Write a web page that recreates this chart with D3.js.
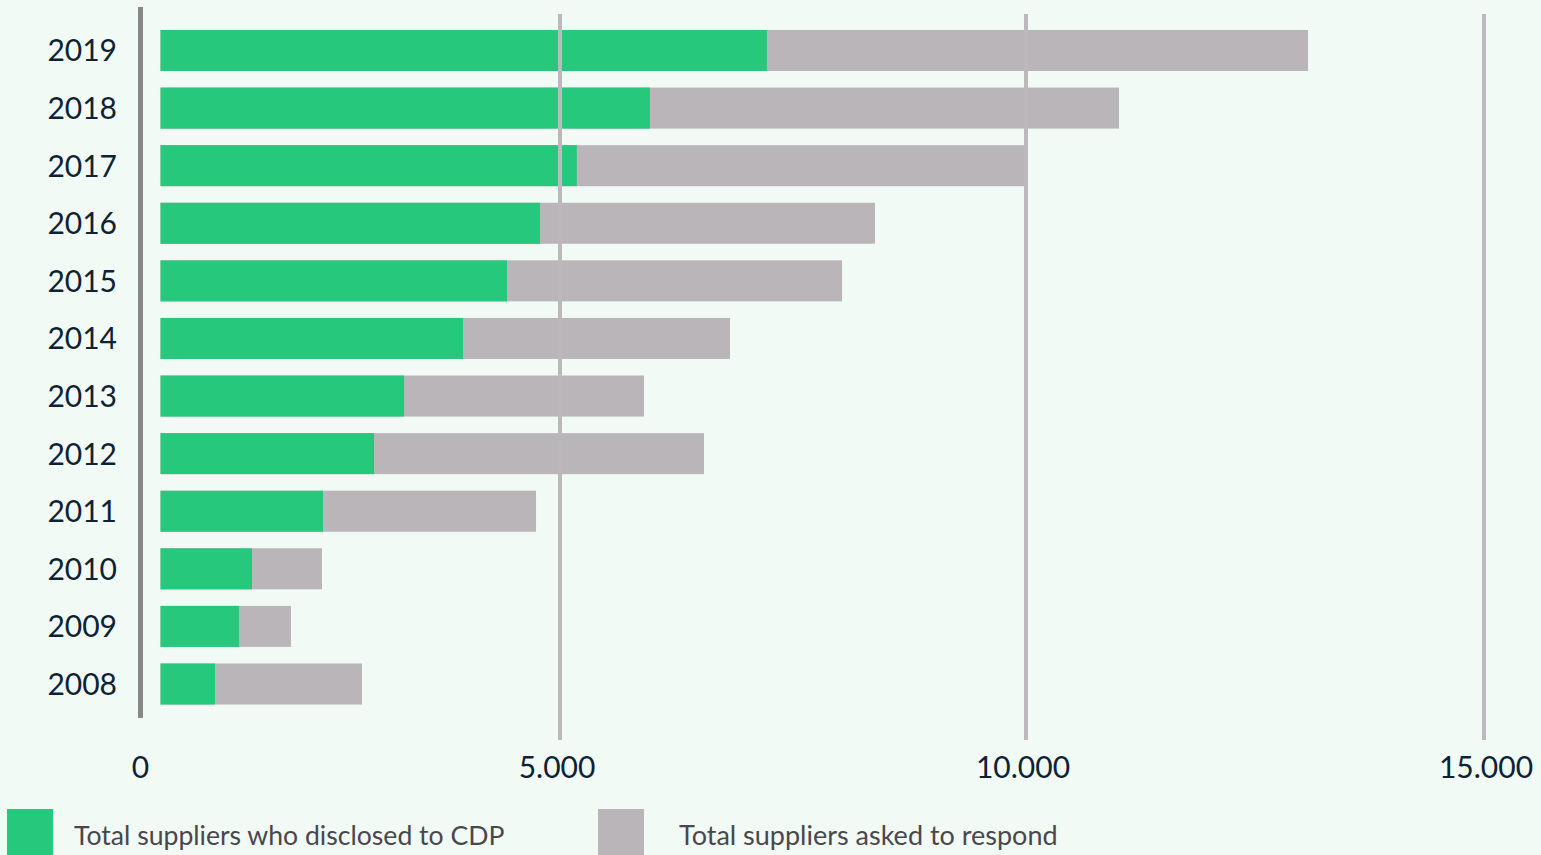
<!DOCTYPE html>
<html>
<head>
<meta charset="utf-8">
<script src="https://cdn.jsdelivr.net/npm/d3@7"></script>
<style>
  html, body { margin: 0; padding: 0; background: #f1faf5; overflow: hidden; }
  svg { display: block; }
  text { font-family: Lato, "Open Sans", sans-serif; }
</style>
</head>
<body>
<svg id="chart" width="1541" height="855"></svg>
<script>
// ---- data ----
const years = ["2019","2018","2017","2016","2015","2014","2013","2012","2011","2010","2009","2008"];
const disclosed = [7220, 5965, 5180, 4750, 4337, 3786, 3048, 2672, 2034, 1145, 982, 682];
const asked = [13079, 11015, 9989, 8380, 8026, 6824, 5901, 6545, 4700, 2021, 1633, 2522];
const tickValues = [0, 5000, 10000, 15000];
const seriesNames = ["Total suppliers who disclosed to CDP", "Total suppliers asked to respond"];

// ---- styling ----
const colors = { disclosed: "#26c87b", asked: "#bab5b9", grid: "#bdb8bc", axis: "#888888",
                 label: "#0e2236", legend: "#4a474c" };

const svg = d3.select("#chart");

// The printed axis is not evenly spaced; a piecewise linear scale follows its ticks.
const x = d3.scaleLinear()
  .domain(tickValues)
  .range([160.5, 560, 1026, 1484]);

const y = d3.scaleBand()
  .domain(years)
  .range([21.7, 712.8])
  .paddingInner(0.288)
  .paddingOuter(0.144);

const axisX = x(0) - 20;

const rows = years.map((yr, i) => ({ year: yr, disclosed: disclosed[i], asked: asked[i] }));

// asked (total) bars
svg.append("g").selectAll("rect").data(rows).join("rect")
  .attr("x", x(0))
  .attr("y", d => y(d.year))
  .attr("width", d => x(d.asked) - x(0))
  .attr("height", y.bandwidth())
  .attr("fill", colors.asked);

// disclosed bars
svg.append("g").selectAll("rect").data(rows).join("rect")
  .attr("x", x(0))
  .attr("y", d => y(d.year))
  .attr("width", d => x(d.disclosed) - x(0))
  .attr("height", y.bandwidth())
  .attr("fill", colors.disclosed);

// gridlines (on top of bars)
svg.append("g").selectAll("line").data(tickValues.filter(t => t > 0)).join("line")
  .attr("x1", d => x(d)).attr("x2", d => x(d))
  .attr("y1", 14).attr("y2", 740)
  .attr("stroke", colors.grid)
  .attr("stroke-width", 4);

// left axis line
svg.append("line")
  .attr("x1", axisX).attr("x2", axisX)
  .attr("y1", 7).attr("y2", 718)
  .attr("stroke", colors.axis)
  .attr("stroke-width", 5);

// year labels
svg.append("g").selectAll("text").data(years).join("text")
  .attr("x", 117)
  .attr("y", d => y(d) + y.bandwidth() / 2 + 11)
  .attr("text-anchor", "end")
  .attr("font-size", 30)
  .attr("fill", colors.label)
  .text(d => d);

// tick labels
const fmt = d3.formatLocale({ decimal: ",", thousands: ".", grouping: [3], currency: ["", ""] }).format(",");
svg.append("g").selectAll("text").data(tickValues).join("text")
  .attr("x", d => d === 0 ? axisX : x(d) + (d === 15000 ? 2 : -3))
  .attr("y", 778)
  .attr("text-anchor", "middle")
  .attr("font-size", 30)
  .attr("fill", colors.label)
  .text(d => fmt(d));

// legend
const legend = [
  { name: seriesNames[0], color: colors.disclosed, sx: 7, tx: 74, fs: 26.6 },
  { name: seriesNames[1], color: colors.asked, sx: 598, tx: 679, fs: 27 }
];
const lg = svg.append("g");
lg.selectAll("rect").data(legend).join("rect")
  .attr("x", d => d.sx).attr("y", 809)
  .attr("width", 46).attr("height", 48)
  .attr("fill", d => d.color);
lg.selectAll("text").data(legend).join("text")
  .attr("x", d => d.tx).attr("y", 845)
  .attr("font-size", d => d.fs)
  .attr("fill", colors.legend)
  .text(d => d.name);
</script>
</body>
</html>
